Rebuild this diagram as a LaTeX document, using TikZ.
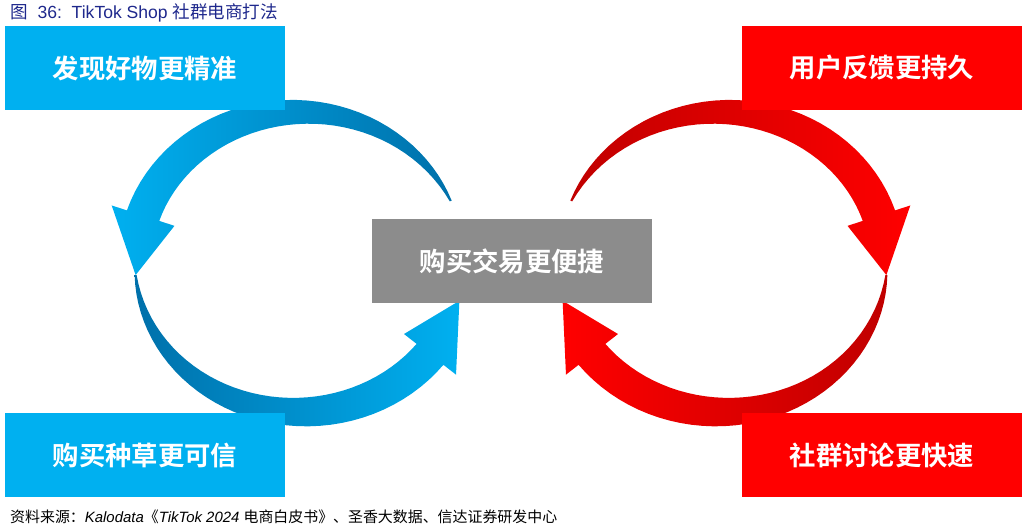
\documentclass[tikz,border=0pt]{standalone}
\usepackage{fontspec}
\setmainfont{Liberation Sans}
\newfontfamily\cjk{Noto Sans CJK SC}
\newfontfamily\cjkb{Noto Sans CJK SC Bold}
\usetikzlibrary{positioning}

\definecolor{boxblue}{RGB}{0,176,240}
\definecolor{arcdark}{RGB}{0,112,170}
\definecolor{boxred}{RGB}{255,0,0}
\definecolor{arcred}{RGB}{192,0,0}
\definecolor{boxgray}{RGB}{140,140,140}
\definecolor{titleblue}{RGB}{30,40,140}

\tikzset{
  tag/.style={minimum width=5.6cm,minimum height=1.7cm,inner sep=0pt,text=white,
    font=\cjkb\fontsize{15}{18}\selectfont},
}
% crescent arrow: cx, cy, start angle, body end angle, tip angle, left colour, right colour
\newcommand\crescent[7]{%
  \shade[left color=#6,right color=#7]
    plot[domain=#3:#4,samples=40] ({#1+(165+(1+16*sin(90*(\x-#3)/(#4-#3))))*cos(\x)},{#2+(150+(1+16*sin(90*(\x-#3)/(#4-#3))))*sin(\x)})
    -- ({#1+198*cos(#4)},{#2+183*sin(#4)})
    -- ({#1+165*cos(#5)},{#2+150*sin(#5)})
    -- ({#1+132*cos(#4)},{#2+117*sin(#4)})
    -- plot[domain=#4:#3,samples=40] ({#1+(165-(1+16*sin(90*(\x-#3)/(#4-#3))))*cos(\x)},{#2+(150-(1+16*sin(90*(\x-#3)/(#4-#3))))*sin(\x)})
    -- cycle;}

\begin{document}
\begin{tikzpicture}[x=0.02cm,y=0.02cm]
\useasboundingbox (0,0) rectangle (1028,531);

% arrows
\crescent{300}{269}{24}{162}{185}{boxblue}{arcdark}
\crescent{300}{269}{185}{322}{345}{arcdark}{boxblue}
\crescent{722}{269}{156}{18}{-5}{arcred}{boxred}
\crescent{722}{269}{355}{218}{195}{boxred}{arcred}

% boxes
\node[tag,fill=boxblue] (find) at (145,463) {发现好物更精准};
\node[tag,fill=boxblue] (trust) at (145,76) {购买种草更可信};
\node[tag,fill=boxred] (feedback) at (882,463) {用户反馈更持久};
\node[tag,fill=boxred] (talk) at (882,76) {社群讨论更快速};
\node[tag,fill=boxgray] (buy) at (512,270) {购买交易更便捷};

% title and source
\node[anchor=west,text=titleblue,font=\fontsize{10}{12}\selectfont] (title) at (4,518)
  {{\cjk 图}\ \ 36:\ \ TikTok Shop {\cjk 社群电商打法}};
\node[anchor=west,font=\itshape\fontsize{8.5}{10}\selectfont] (src) at (4,14)
  {{\cjk 资料来源：}Kalodata{\cjk 《}TikTok 2024 {\cjk 电商白皮书》、圣香大数据、信达证券研发中心}};
\end{tikzpicture}
\end{document}
